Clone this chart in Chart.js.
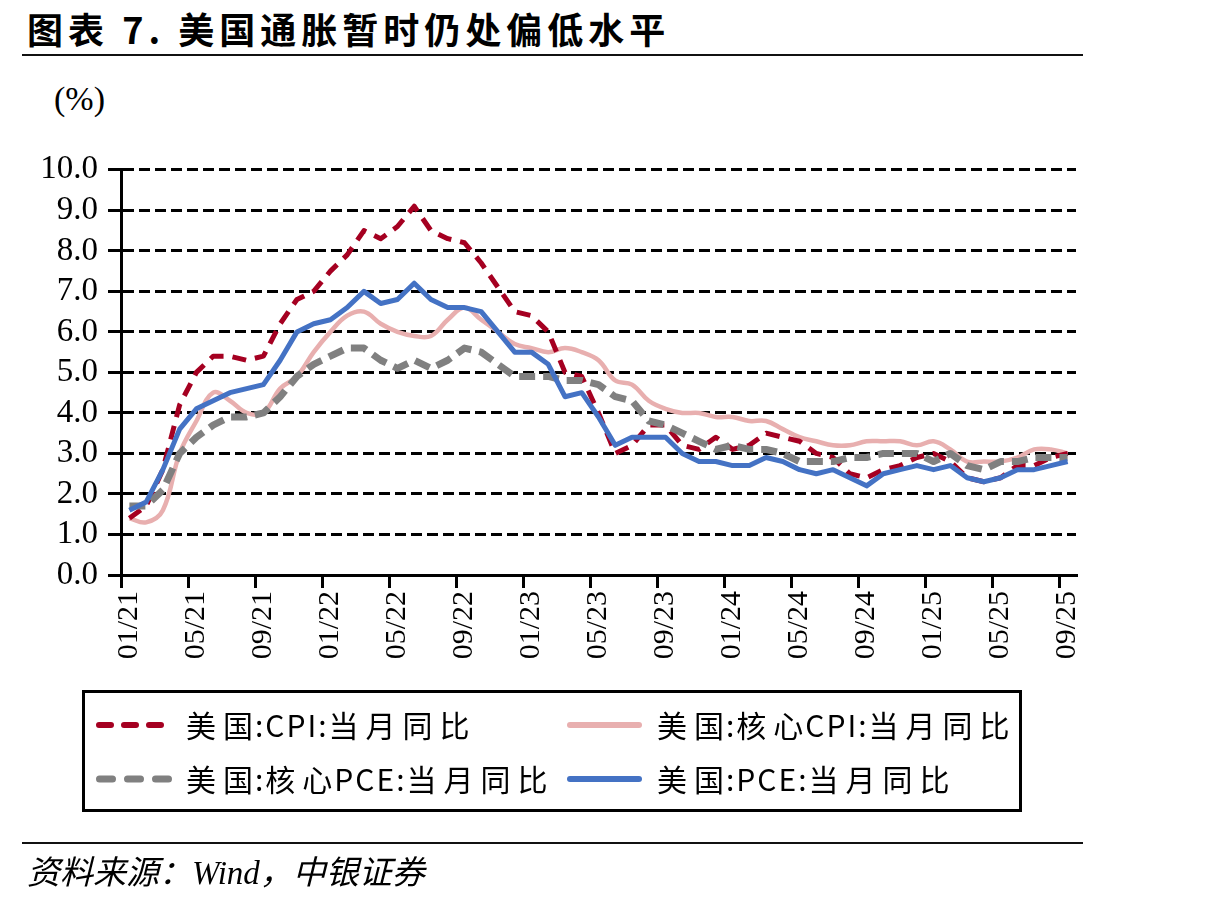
<!DOCTYPE html>
<html>
<head>
<meta charset="utf-8">
<script src="https://cdn.jsdelivr.net/npm/chart.js@4.4.1/dist/chart.umd.min.js"></script>
<style>
  html, body { margin: 0; padding: 0; background: #fff; }
  body { position: relative; width: 1209px; height: 902px; overflow: hidden; }
  .abs { position: absolute; }
  .title { left: 27px; top: 2px; font-family: "Noto Sans CJK SC", sans-serif; font-weight: 700; font-size: 36px; letter-spacing: 5px; color: #000; white-space: nowrap; }
  .rule { left: 22px; width: 1061px; height: 2px; background: #111; }
  .unit { left: 54px; top: 80px; font-family: "Liberation Serif", serif; font-size: 34px; color: #000; }
  #chart { left: 0; top: 140px; }
  .legend-box { left: 82px; top: 690px; width: 940px; height: 122px; border: 3px solid #000; box-sizing: border-box; }
  .leg-text { font-family: "Noto Sans CJK SC", sans-serif; font-size: 30px; letter-spacing: 7px; color: #000; white-space: nowrap; line-height: 1; }
  .leg-text span { letter-spacing: 2px; }
  .source { left: 27px; top: 846px; font-family: "Liberation Serif", "Noto Sans CJK SC", serif; font-style: italic; font-size: 33px; color: #000; white-space: nowrap; }
</style>
</head>
<body>
<div class="abs title">图表 7. 美国通胀暂时仍处偏低水平</div>
<div class="abs rule" style="top:54px"></div>
<div class="abs unit">(%)</div>
<canvas id="chart" class="abs" width="1209" height="535"></canvas>

<div class="abs legend-box"></div>
<svg class="abs" style="left:0;top:0" width="1209" height="902">
  <line x1="99" y1="725" x2="161" y2="725" stroke="#A50021" stroke-width="6" stroke-linecap="round" stroke-dasharray="12 13"/>
  <line x1="570" y1="725" x2="639" y2="725" stroke="#E8AFAF" stroke-width="6" stroke-linecap="round"/>
  <line x1="99.5" y1="779" x2="169.5" y2="779" stroke="#808080" stroke-width="7" stroke-linecap="round" stroke-dasharray="13 15"/>
  <line x1="570" y1="779" x2="639" y2="779" stroke="#4472C4" stroke-width="6" stroke-linecap="round"/>
</svg>
<div class="abs leg-text" style="left:186px;top:709px">美<span>国:CPI:</span>当月同比</div>
<div class="abs leg-text" style="left:657px;top:709px">美<span>国:</span>核<span>心CPI:</span>当月同比</div>
<div class="abs leg-text" style="left:186px;top:763px">美<span>国:</span>核<span>心PCE:</span>当月同比</div>
<div class="abs leg-text" style="left:657px;top:763px">美<span>国:PCE:</span>当月同比</div>

<div class="abs rule" style="top:842px"></div>
<div class="abs source">资料来源：Wind，中银证券</div>

<script>
// monthly, 01/21 .. 09/25
const months = [
  '01/21','02/21','03/21','04/21','05/21','06/21','07/21','08/21','09/21','10/21','11/21','12/21',
  '01/22','02/22','03/22','04/22','05/22','06/22','07/22','08/22','09/22','10/22','11/22','12/22',
  '01/23','02/23','03/23','04/23','05/23','06/23','07/23','08/23','09/23','10/23','11/23','12/23',
  '01/24','02/24','03/24','04/24','05/24','06/24','07/24','08/24','09/24','10/24','11/24','12/24',
  '01/25','02/25','03/25','04/25','05/25','06/25','07/25','08/25','09/25'
];

// 美国:CPI:当月同比
const cpi = [
  1.4, 1.7, 2.6, 4.2, 5.0, 5.4, 5.4, 5.3, 5.4, 6.2, 6.8, 7.0,
  7.5, 7.9, 8.5, 8.3, 8.6, 9.1, 8.5, 8.3, 8.2, 7.7, 7.1, 6.5,
  6.4, 6.0, 5.0, 4.9, 4.0, 3.0, 3.2, 3.7, 3.7, 3.2, 3.1, 3.4,
  3.1, 3.2, 3.5, 3.4, 3.3, 3.0, 2.9, 2.5, 2.4, 2.6, 2.7, 2.9,
  3.0, 2.8, 2.4, 2.3, 2.4, 2.7, 2.7, 2.9, 3.0
];

// 美国:核心CPI:当月同比
const coreCpi = [
  1.4, 1.3, 1.6, 3.0, 3.8, 4.5, 4.3, 4.0, 4.0, 4.6, 4.9, 5.5,
  6.0, 6.4, 6.5, 6.2, 6.0, 5.9, 5.9, 6.3, 6.6, 6.3, 6.0, 5.7,
  5.6, 5.5, 5.6, 5.5, 5.3, 4.8, 4.7, 4.3, 4.1, 4.0, 4.0, 3.9,
  3.9, 3.8, 3.8, 3.6, 3.4, 3.3, 3.2, 3.2, 3.3, 3.3, 3.3, 3.2,
  3.3, 3.1, 2.8, 2.8, 2.8, 2.9, 3.1, 3.1, 3.0
];

// 美国:核心PCE:当月同比
const corePce = [
  1.7, 1.7, 2.1, 3.0, 3.4, 3.7, 3.9, 3.9, 4.0, 4.4, 4.9, 5.2,
  5.4, 5.6, 5.6, 5.3, 5.1, 5.3, 5.1, 5.3, 5.6, 5.5, 5.2, 4.9,
  4.9, 4.9, 4.8, 4.8, 4.7, 4.4, 4.3, 3.8, 3.7, 3.5, 3.3, 3.1,
  3.2, 3.1, 3.1, 3.0, 2.8, 2.8, 2.8, 2.9, 2.9, 3.0, 3.0, 3.0,
  2.8, 3.0, 2.7, 2.6, 2.8, 2.8, 2.9, 2.9, 2.9
];

// 美国:PCE:当月同比
const pce = [
  1.6, 1.8, 2.6, 3.6, 4.1, 4.3, 4.5, 4.6, 4.7, 5.3, 6.0, 6.2,
  6.3, 6.6, 7.0, 6.7, 6.8, 7.2, 6.8, 6.6, 6.6, 6.5, 6.0, 5.5,
  5.5, 5.2, 4.4, 4.5, 3.9, 3.2, 3.4, 3.4, 3.4, 3.0, 2.8, 2.8,
  2.7, 2.7, 2.9, 2.8, 2.6, 2.5, 2.6, 2.4, 2.2, 2.5, 2.6, 2.7,
  2.6, 2.7, 2.4, 2.3, 2.4, 2.6, 2.6, 2.7, 2.8
];

const labelEvery = 4;

new Chart(document.getElementById('chart'), {
  type: 'line',
  data: {
    labels: months,
    datasets: [
      { label: '美国:PCE:当月同比', data: pce, borderColor: '#4472C4', borderWidth: 5, order: 0 },
      { label: '美国:核心PCE:当月同比', data: corePce, borderColor: '#808080', borderWidth: 7, borderDash: [16, 8], order: 1 },
      { label: '美国:CPI:当月同比', data: cpi, borderColor: '#A50021', borderWidth: 5, borderDash: [14, 9], order: 2 },
      { label: '美国:核心CPI:当月同比', data: coreCpi, borderColor: '#E8AFAF', borderWidth: 4.5, tension: 0.4, order: 3 }
    ]
  },
  options: {
    responsive: false,
    animation: false,
    devicePixelRatio: 1,
    layout: { padding: { left: 0, right: 133, top: 23, bottom: 0 } },
    elements: {
      point: { radius: 0 },
      line: { borderJoinStyle: 'round', fill: false, tension: 0 }
    },
    plugins: {
      legend: { display: false },
      tooltip: { enabled: false }
    },
    scales: {
      x: {
        offset: true,
        grid: {
          offset: true,
          drawOnChartArea: false,
          color: ( c ) => ( c.index % labelEvery === 0 ? '#000' : 'rgba(0,0,0,0)' ),
          lineWidth: 3,
          tickLength: 13
        },
        border: { color: '#000', width: 3 },
        ticks: {
          autoSkip: false,
          minRotation: 90,
          maxRotation: 90,
          padding: 3,
          color: '#000',
          font: { family: 'Liberation Serif', size: 30 },
          callback: function ( v, i ) {
            return i % labelEvery === 0 ? this.getLabelForValue( v ) : '';
          }
        },
        afterFit: ( s ) => { s.height = 100; }
      },
      y: {
        min: 0,
        max: 10,
        ticks: {
          stepSize: 1,
          autoSkip: false,
          padding: 10,
          color: '#000',
          font: { family: 'Liberation Serif', size: 33 },
          callback: ( v ) => v.toFixed( 1 )
        },
        grid: { color: '#000', lineWidth: 3, tickLength: 13 },
        border: { color: '#000', width: 3, dash: [11, 5] },
        afterFit: ( s ) => { s.width = 121; }
      }
    }
  }
});
</script>
</body>
</html>
